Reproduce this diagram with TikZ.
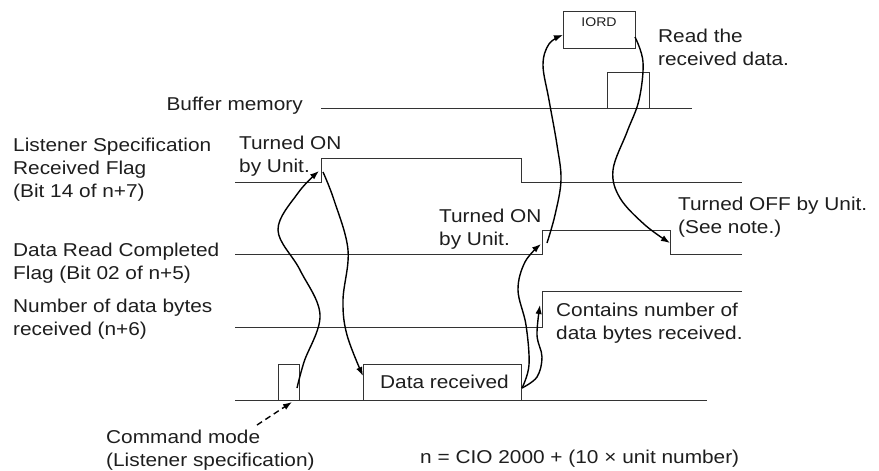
\documentclass[tikz,border=0pt]{standalone}
\usepackage{fontspec}
\setmainfont[FakeStretch=1.12]{Liberation Sans}
\usetikzlibrary{arrows.meta}
\definecolor{txt}{HTML}{1E1E1E}
\definecolor{linec}{HTML}{333333}
\begin{document}
\begin{tikzpicture}[x=1pt,y=-1pt,
  lbl/.style={anchor=base west,inner sep=0pt,align=left,font=\fontsize{18.6}{23}\selectfont,text=txt},
  sig/.style={draw=linec,line width=1pt},
  flow/.style={draw=black,line width=1.4pt,-{Latex[length=9pt,width=6.5pt]}},
  dflow/.style={flow,dash pattern=on 6pt off 4pt},
]
\useasboundingbox (0,0) rectangle (879,471);

% ---------- timing lines ----------
% Buffer memory
\draw[sig] (321,108) coordinate (bufL) -- (692,108) coordinate (bufR);
\draw[sig] (607,108) rectangle (649,72);
% Listener Specification Received Flag
\draw[sig] (235,182) -- (321,182) coordinate (lisRise) -- (321,158) -- (521,158) -- (521,182) -- (742,182);
% Data Read Completed Flag
\draw[sig] (235,254) -- (542,254) -- (542,230) -- (670,230) -- (670,254) -- (742,254);
% Number of data bytes
\draw[sig] (235,327) -- (542,327) -- (542,291) -- (742,291);
% Command / data line
\draw[sig] (235,400) -- (707,400);
\draw[sig] (278,400) rectangle (299,364);
\draw[sig] (363,400) -- (363,364) -- (521,364) -- (521,400);
% IORD box
\draw[sig] (563,11) rectangle (635,48);
\node[anchor=base,inner sep=0pt,font=\fontsize{12.6}{14}\selectfont,text=txt] (iord) at (599,26) {IORD};

% ---------- labels (base = baseline of the last line) ----------
\node[lbl] (lisLbl) at (13,197.7) {Listener Specification\\Received Flag\\(Bit 14 of n+7)};
\node[lbl] (drcLbl) at (13,279.7) {Data Read Completed\\Flag (Bit 02 of n+5)};
\node[lbl] (numLbl) at (13,335) {Number of data bytes\\received (n+6)};
\node[lbl,anchor=base east] (bufLbl) at (303,110) {Buffer memory};
\node[lbl] (on1) at (239,172) {Turned ON\\by Unit.};
\node[lbl] (on2) at (439,245) {Turned ON\\by Unit.};
\node[lbl] (off) at (678,233) {Turned OFF by Unit.\\(See note.)};
\node[lbl] (cont) at (556,339) {Contains number of\\data bytes received.};
\node[lbl] (read) at (658,65) {Read the\\received data.};
\node[lbl] (datarec) at (380,388) {Data received};
\node[lbl] (cmd) at (106,466) {Command mode\\(Listener specification)};
\node[lbl] (formula) at (420,463) {n = CIO 2000 + (10 × unit number)};

% ---------- connector end points ----------
\coordinate (cmdTop) at (257,425);
\coordinate (cmdBox) at (292,402);
\coordinate (cmdIn) at (297,388);
\coordinate (lisOnTip) at (319,171);
\coordinate (lisOnStart) at (323,172);
\coordinate (dataTip) at (363,376);
\coordinate (dataEnd) at (522,388);
\coordinate (drcOnTip) at (541,244);
\coordinate (drcOnStart) at (547,243);
\coordinate (contTip) at (540,305);
\coordinate (iordIn) at (563,35);
\coordinate (iordOut) at (635,37);
\coordinate (drcOffTip) at (670,243);

% ---------- connectors ----------
\draw[dflow] (cmdTop) -- (cmdBox);
\draw[flow] plot[smooth,tension=0.6] coordinates {(cmdIn) (304,362) (320,315) (300,270) (278,230) (298,193) (lisOnTip)};
\draw[flow] plot[smooth,tension=0.6] coordinates {(lisOnStart) (334,200) (348,250) (343,300) (347,335) (dataTip)};
\draw[flow] plot[smooth,tension=0.6] coordinates {(dataEnd) (529,365) (526,325) (518,290) (525,262) (drcOnTip)};
\draw[flow] plot[smooth,tension=0.6] coordinates {(dataEnd) (537,377) (542,357) (537,335) (contTip)};
\draw[flow] plot[smooth,tension=0.6] coordinates {(drcOnStart) (555,215) (561,180) (557,145) (549,100) (543,65) (549,44) (iordIn)};
\draw[flow] plot[smooth,tension=0.6] coordinates {(iordOut) (643,62) (639,100) (627,132) (613,170) (620,198) (645,225) (drcOffTip)};
\end{tikzpicture}
\end{document}
